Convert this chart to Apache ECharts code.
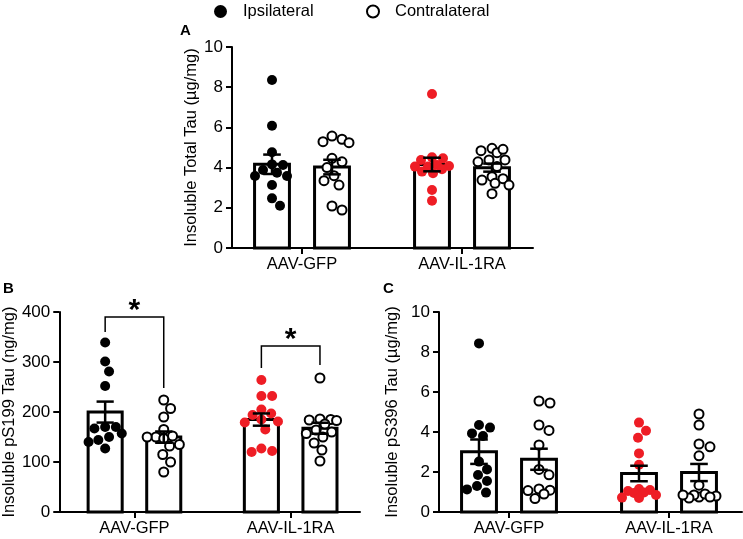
<!DOCTYPE html>
<html>
<head>
<meta charset="utf-8">
<script src="https://cdn.jsdelivr.net/npm/echarts@6/dist/echarts.min.js"></script>
<style>
    html, body { margin: 0; padding: 0; background: #fff; }
    #main { width: 743px; height: 539px; }
</style>
</head>
<body>
<div id="main"></div>
<script>
// 分组
let groups = ['AAV-GFP', 'AAV-IL-1RA'];

// A: Insoluble Total Tau (µg/mg)
let totalGfpIpsi = [8.36, 6.08, 4.76, 4.13, 4.16, 3.88, 3.75, 3.58, 3.58, 3.13, 2.47, 2.10];
let totalGfpContra = [5.57, 5.41, 5.29, 5.24, 4.46, 4.29, 4.0, 3.6, 3.35, 3.13, 2.09, 1.89];
let totalIlIpsi = [7.66, 4.46, 4.51, 4.38, 4.05, 4.05, 4.13, 4.08, 3.92, 3.80, 3.72, 2.89, 2.35];
let totalIlContra = [4.96, 4.74, 4.84, 4.91, 4.38, 4.29, 4.38, 4.05, 3.55, 3.45, 3.38, 3.22, 3.13, 2.70];

// B: Insoluble pS199 Tau (ng/mg)
let ps199GfpIpsi = [339, 301, 281, 252, 170, 167, 170, 157, 150, 144, 140, 127];
let ps199GfpContra = [224, 207, 190, 165, 152, 150, 150, 147, 135, 132, 115, 100, 80];
let ps199IlIpsi = [264, 232, 232, 205, 194, 197, 181, 185, 179, 165, 120, 122, 127];
let ps199IlContra = [268, 185, 186, 184, 183, 176, 164, 160, 157, 150, 138, 124, 102];

// C: Insoluble pS396 Tau (µg/mg)
let ps396GfpIpsi = [8.43, 4.35, 4.22, 3.93, 3.8, 2.52, 2.13, 1.85, 1.55, 1.3, 1.13, 0.97];
let ps396GfpContra = [5.45, 5.55, 4.35, 4.08, 3.35, 2.13, 1.86, 1.15, 1.09, 0.9, 1.07, 0.67];
let ps396IlIpsi = [4.47, 4.06, 3.71, 2.93, 2.36, 1.05, 1.15, 0.95, 1.1, 0.98, 0.7, 0.72, 0.85];
let ps396IlContra = [4.9, 4.35, 3.4, 3.26, 2.81, 1.34, 0.75, 0.9, 0.8, 0.85, 0.75, 0.7, 0.85];

// 显著性标记 B: [组, 横线高度, 左腿下端, 右腿下端]
let sigB = [
    [1, 390, 360, 248],
    [2, 332, 288, 294]
];

window.addEventListener('load', function() {
    let myChart = echarts.init(document.getElementById('main'));
    let font = 'Liberation Sans, Arial, sans-serif';
    let red = '#ee1d25';
    let off = 0.1875;     // 柱子相对组中心的偏移
    let barHalf = 0.109;  // 柱子半宽
    let capHalf = 0.055;  // 误差线帽半宽

    let panels = [
        { left: 232, top: 47, width: 301, height: 201, xMin: 0.5625, xMax: 2.44375, yMax: 10, step: 2,
          name: 'Insoluble Total Tau (µg/mg)', nameGap: 30,
          sets: [totalGfpIpsi, totalGfpContra, totalIlIpsi, totalIlContra] },
        { left: 52, top: 312, width: 308, height: 200, xMin: 0.51875, xMax: 2.44375, yMax: 400, step: 100,
          name: 'Insoluble pS199 Tau (ng/mg)', nameGap: 34,
          sets: [ps199GfpIpsi, ps199GfpContra, ps199IlIpsi, ps199IlContra] },
        { left: 439, top: 312, width: 303, height: 200, xMin: 0.5625, xMax: 2.45625, yMax: 10, step: 2,
          name: 'Insoluble pS396 Tau (µg/mg)', nameGap: 38,
          sets: [ps396GfpIpsi, ps396GfpContra, ps396IlIpsi, ps396IlContra] }
    ];

    function mean(a) {
        return a.reduce(function(s, v) { return s + v; }, 0) / a.length;
    }

    function sem(a) {
        let m = mean(a);
        let ss = a.reduce(function(s, v) { return s + (v - m) * (v - m); }, 0);
        return Math.sqrt(ss / (a.length - 1)) / Math.sqrt(a.length);
    }

    // 蜂群散点: 像素空间内尽量不重叠, 横向最多偏移 maxOff
    function swarm(values, cx, pxX, pxY, d, maxOff) {
        let order = values.map(function(v, i) { return i; })
            .sort(function(a, b) { return values[b] - values[a]; });
        let placed = [];
        let out = [];
        order.forEach(function(i) {
            let py = values[i] * pxY;
            let best = 0, bestDist = -1;
            for (let k = 0; k <= maxOff * 2; k++) {
                let c = (k % 2 ? 1 : -1) * Math.ceil(k / 2);
                let dmin = placed.reduce(function(m, p) {
                    return Math.min(m, Math.hypot(p[0] - c, p[1] - py));
                }, Infinity);
                if (dmin >= d) { best = c; bestDist = dmin; break; }
                if (dmin > bestDist + 0.5) { best = c; bestDist = dmin; }
            }
            placed.push([best, py]);
            out[i] = [cx + best / pxX, values[i]];
        });
        return out;
    }

    function renderBar(params, api) {
        let x = api.value(0), m = api.value(1);
        let p0 = api.coord([x - barHalf, m]);
        let p1 = api.coord([x + barHalf, 0]);
        return {
            type: 'rect',
            shape: { x: p0[0], y: p0[1], width: p1[0] - p0[0], height: p1[1] - p0[1] },
            style: { fill: '#fff', stroke: '#000', lineWidth: 3 }
        };
    }

    function renderErr(params, api) {
        let x = api.value(0), m = api.value(1), e = api.value(2);
        let top = api.coord([x, m + e]);
        let bot = api.coord([x, m - e]);
        let l = api.coord([x - capHalf, m])[0];
        let r = api.coord([x + capHalf, m])[0];
        let st = { stroke: '#000', lineWidth: 2.5 };
        return {
            type: 'group',
            children: [
                { type: 'line', shape: { x1: top[0], y1: top[1], x2: bot[0], y2: bot[1] }, style: st },
                { type: 'line', shape: { x1: l, y1: top[1], x2: r, y2: top[1] }, style: st },
                { type: 'line', shape: { x1: l, y1: bot[1], x2: r, y2: bot[1] }, style: st }
            ]
        };
    }

    function renderSig(params, api) {
        let g = api.value(0);
        let a = api.coord([g - off, api.value(1)]);
        let b = api.coord([g + off, api.value(1)]);
        let la = api.coord([g - off, api.value(2)]);
        let rb = api.coord([g + off, api.value(3)]);
        let st = { stroke: '#000', lineWidth: 1.5, fill: null };
        return {
            type: 'group',
            children: [
                { type: 'polyline', shape: { points: [[la[0], la[1]], [a[0], a[1]], [b[0], b[1]], [rb[0], rb[1]]] }, style: st },
                { type: 'text', style: { text: '*', x: (a[0] + b[0]) / 2, y: a[1] - 6, fontSize: 30, fontWeight: 'bold',
                    fontFamily: font, fill: '#000', align: 'center', verticalAlign: 'middle' } }
            ]
        };
    }

    let grid = [], xAxis = [], yAxis = [], series = [];

    panels.forEach(function(p, i) {
        grid.push({ left: p.left, top: p.top, width: p.width, height: p.height });
        xAxis.push({
            type: 'value', gridIndex: i, min: p.xMin, max: p.xMax,
            splitLine: { show: false },
            axisLine: { lineStyle: { color: '#000', width: 2 } },
            axisTick: { customValues: [1, 2], length: 6, lineStyle: { color: '#000', width: 2 } },
            axisLabel: {
                customValues: [1, 2], margin: 8, color: '#000', fontSize: 16.5, fontFamily: font,
                formatter: function(v) { return groups[Math.round(v) - 1]; }
            }
        });
        yAxis.push({
            type: 'value', gridIndex: i, min: 0, max: p.yMax, interval: p.step,
            name: p.name, nameLocation: 'middle', nameGap: p.nameGap,
            nameTextStyle: { color: '#000', fontSize: 16.5, fontFamily: font },
            splitLine: { show: false },
            axisLine: { show: true, lineStyle: { color: '#000', width: 2 } },
            axisTick: { show: true, length: 6, lineStyle: { color: '#000', width: 2 } },
            axisLabel: { margin: 9, color: '#000', fontSize: 17, fontFamily: font }
        });

        let pxX = p.width / (p.xMax - p.xMin);
        let pxY = p.height / p.yMax;
        let xs = [1 - off, 1 + off, 2 - off, 2 + off];

        series.push({
            type: 'custom', xAxisIndex: i, yAxisIndex: i, z: 2, silent: true,
            renderItem: renderBar,
            data: p.sets.map(function(s, k) { return [xs[k], mean(s)]; })
        });

        p.sets.forEach(function(s, k) {
            let ipsi = k % 2 === 0;
            series.push({
                type: 'scatter', xAxisIndex: i, yAxisIndex: i, z: 3,
                name: ipsi ? (k === 0 ? 'Ipsilateral' : 'Ipsilateral IL') : 'Contralateral',
                symbol: 'circle',
                symbolSize: ipsi ? 10 : 9,
                itemStyle: ipsi
                    ? { color: k === 0 ? '#000' : red, opacity: 1 }
                    : { color: '#fff', borderColor: '#000', borderWidth: 2, opacity: 1 },
                data: swarm(s, xs[k], pxX, pxY, 10.5, 17)
            });
        });

        series.push({
            type: 'custom', xAxisIndex: i, yAxisIndex: i, z: 4, silent: true,
            renderItem: renderErr,
            data: p.sets.map(function(s, k) { return [xs[k], mean(s), sem(s)]; })
        });
    });

    series.push({
        type: 'custom', xAxisIndex: 1, yAxisIndex: 1, z: 5, silent: true, clip: false,
        renderItem: renderSig,
        data: sigB
    });

    let letterStyle = { fontSize: 15, fontWeight: 'bold', color: '#000', fontFamily: font };

    let option = {
        animation: false,
        backgroundColor: '#fff',
        title: [
            { text: 'A', left: 180, top: 23, padding: 0, textStyle: letterStyle },
            { text: 'B', left: 3, top: 281, padding: 0, textStyle: letterStyle },
            { text: 'C', left: 383, top: 281, padding: 0, textStyle: letterStyle }
        ],
        legend: [{
            data: ['Ipsilateral'], left: 209, top: -2, selectedMode: false,
            itemWidth: 13, itemHeight: 13,
            textStyle: { fontSize: 16.5, color: '#000', fontFamily: font, padding: [0, 0, 0, 11] }
        }, {
            data: ['Contralateral'], left: 361, top: -2, selectedMode: false,
            itemWidth: 12, itemHeight: 12,
            textStyle: { fontSize: 16.5, color: '#000', fontFamily: font, padding: [0, 0, 0, 11] }
        }],
        grid: grid,
        xAxis: xAxis,
        yAxis: yAxis,
        series: series
    };

    myChart.setOption(option);
});
</script>
</body>
</html>
